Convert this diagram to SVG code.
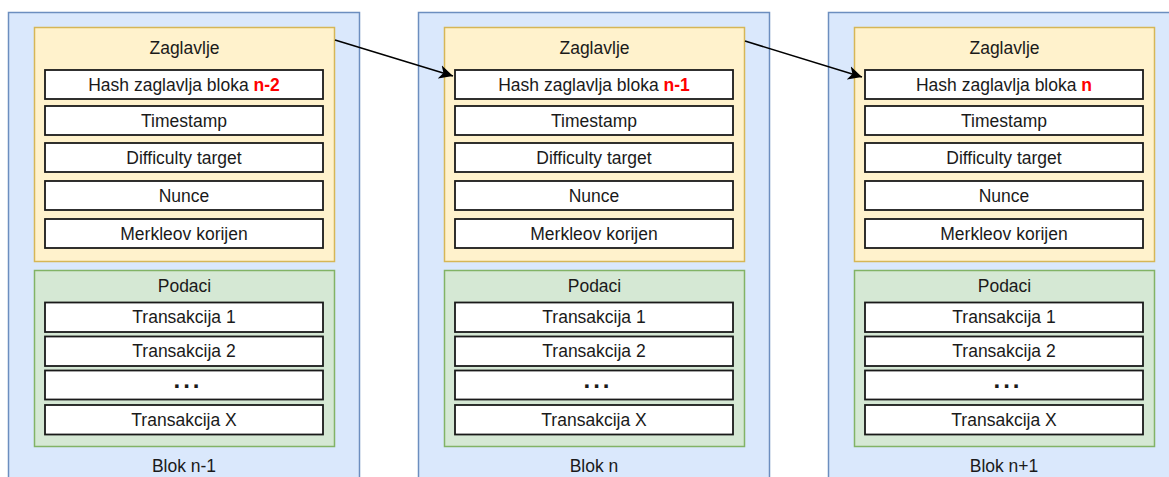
<svg xmlns="http://www.w3.org/2000/svg" width="1169" height="477" viewBox="0 0 1169 477">
<style>
  .outer{fill:#dae8fc;stroke:#6c8ebf;stroke-width:1.5}
  .hdr{fill:#fff2cc;stroke:#d6b656;stroke-width:1.5}
  .dat{fill:#d5e8d4;stroke:#82b366;stroke-width:1.5}
  .row{fill:#ffffff;stroke:#1a1a1a;stroke-width:1.8}
  text{font-family:"Liberation Sans",Arial,sans-serif;font-size:17.5px;fill:#1a1a1a;text-anchor:middle}
  .red{fill:#ff0000;font-weight:bold}
  .dots{font-weight:bold;font-size:24px;letter-spacing:3px}
  .conn{fill:none;stroke:#000;stroke-width:1.5}
</style>
<defs>
  <marker id="arr" markerUnits="userSpaceOnUse" markerWidth="16" markerHeight="14" refX="14" refY="7" orient="auto" viewBox="0 0 16 14">
    <path d="M0,0 L14,7 L0,14 L4,7 Z" fill="#000"/>
  </marker>
  <g id="blk">
    <rect class="hdr" x="34.5" y="27.5" width="300" height="234"/>
    <text x="184.5" y="54">Zaglavlje</text>
    <rect class="row" x="45" y="70" width="278" height="29"/>
    <rect class="row" x="45" y="106" width="278" height="29"/>
    <text x="184" y="126.5">Timestamp</text>
    <rect class="row" x="45" y="143" width="278" height="29"/>
    <text x="184" y="163.5">Difficulty target</text>
    <rect class="row" x="45" y="181" width="278" height="29"/>
    <text x="184" y="201.5">Nunce</text>
    <rect class="row" x="45" y="219" width="278" height="29"/>
    <text x="184" y="239.5">Merkleov korijen</text>
    <rect class="dat" x="34.5" y="270.5" width="300" height="176"/>
    <text x="184.5" y="292">Podaci</text>
    <rect class="row" x="45" y="302.5" width="278" height="29.5"/>
    <text x="184" y="323">Transakcija 1</text>
    <rect class="row" x="45" y="336.5" width="278" height="29.5"/>
    <text x="184" y="357">Transakcija 2</text>
    <rect class="row" x="45" y="370.5" width="278" height="29"/>
    <text class="dots" x="188" y="388">...</text>
    <rect class="row" x="45" y="405" width="278" height="29.5"/>
    <text x="184" y="425.5">Transakcija X</text>
  </g>
</defs>

<g id="blok-n-1">
  <rect class="outer" x="8.5" y="12.5" width="351" height="480"/>
  <use href="#blk"/>
  <text x="184" y="90.5">Hash zaglavlja bloka <tspan class="red">n-2</tspan></text>
  <text x="184" y="471.5">Blok n-1</text>
</g>

<g id="blok-n">
  <rect class="outer" x="418.5" y="12.5" width="351" height="480"/>
  <use href="#blk" x="410"/>
  <text x="594" y="90.5">Hash zaglavlja bloka <tspan class="red">n-1</tspan></text>
  <text x="594" y="471.5">Blok n</text>
</g>

<g id="blok-n1">
  <rect class="outer" x="828.5" y="12.5" width="351" height="480"/>
  <use href="#blk" x="820"/>
  <text x="1004" y="90.5">Hash zaglavlja bloka <tspan class="red">n</tspan></text>
  <text x="1004" y="471.5">Blok n+1</text>
</g>

<g id="connectors">
  <path class="conn" d="M335,40 L453,76" marker-end="url(#arr)"/>
  <path class="conn" d="M745,41 L862,77" marker-end="url(#arr)"/>
</g>
</svg>
